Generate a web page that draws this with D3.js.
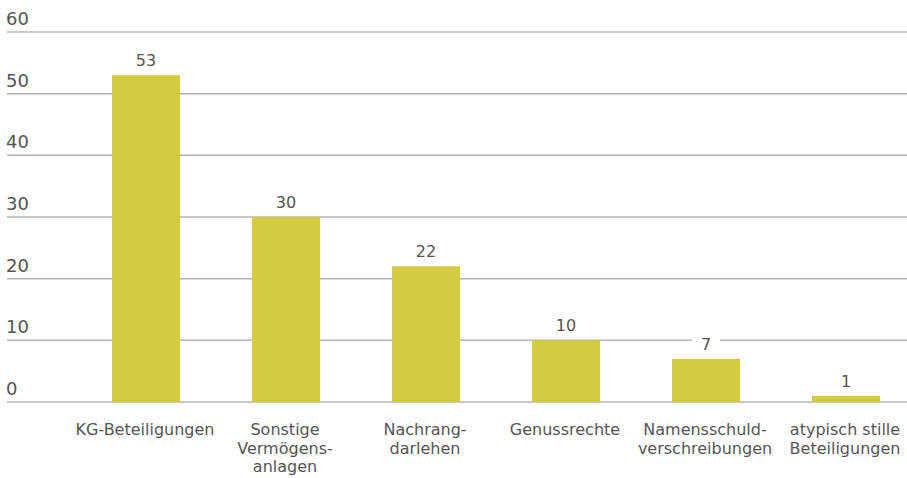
<!DOCTYPE html>
<html>
<head>
<meta charset="utf-8">
<script src="https://d3js.org/d3.v7.min.js"></script>
<style>
  body { margin: 0; background: #fff; }
  text { font-family: "DejaVu Sans", Verdana, sans-serif; fill: #555; }
</style>
</head>
<body>
<svg width="907" height="478"></svg>
<script>
const categories = [
  ["KG-Beteiligungen"],
  ["Sonstige", "Vermögens-", "anlagen"],
  ["Nachrang-", "darlehen"],
  ["Genussrechte"],
  ["Namensschuld-", "verschreibungen"],
  ["atypisch stille", "Beteiligungen"]
];
const values = [53, 30, 22, 10, 7, 1];
const yTicks = [0, 10, 20, 30, 40, 50, 60];

const svg = d3.select("svg");
const barColor = "#d4cc40";

const x = d3.scaleBand()
  .domain(d3.range(categories.length))
  .range([76, 916])
  .paddingInner(72 / 140)
  .paddingOuter(36 / 140);

const y = d3.scaleLinear().domain([0, 60]).range([402, 32]);

// gridlines + y labels
const grid = svg.append("g");
grid.selectAll("line").data(yTicks).join("line")
  .attr("x1", 7).attr("x2", 907)
  .attr("y1", d => y(d)).attr("y2", d => y(d))
  .attr("stroke", "#b4b4b4").attr("stroke-width", 1.5);
grid.selectAll("text").data(yTicks).join("text")
  .attr("x", 6).attr("y", d => y(d) - 7)
  .attr("font-size", "18px")
  .text(d => d);

// bars
svg.append("g").selectAll("rect").data(values).join("rect")
  .attr("x", (d, i) => x(i))
  .attr("y", d => y(d))
  .attr("width", x.bandwidth())
  .attr("height", d => y(0) - y(d))
  .attr("fill", barColor);

// value labels with white box
const vl = svg.append("g").selectAll("g").data(values).join("g")
  .attr("transform", (d, i) => `translate(${x(i) + x.bandwidth() / 2},${y(d) - 9})`);
vl.append("rect")
  .attr("x", -14).attr("y", -16).attr("width", 28).attr("height", 20)
  .attr("fill", "#fff");
vl.append("text")
  .attr("text-anchor", "middle")
  .attr("font-size", "16px")
  .text(d => d);

// category labels
const cl = svg.append("g").selectAll("text").data(categories).join("text")
  .attr("text-anchor", "middle")
  .attr("font-size", "16px")
  .attr("transform", (d, i) => `translate(${x(i) + x.bandwidth() / 2 - 1},435)`);
cl.selectAll("tspan").data(d => d).join("tspan")
  .attr("x", 0)
  .attr("dy", (d, j) => j === 0 ? 0 : 18.5)
  .text(d => d);
</script>
</body>
</html>
